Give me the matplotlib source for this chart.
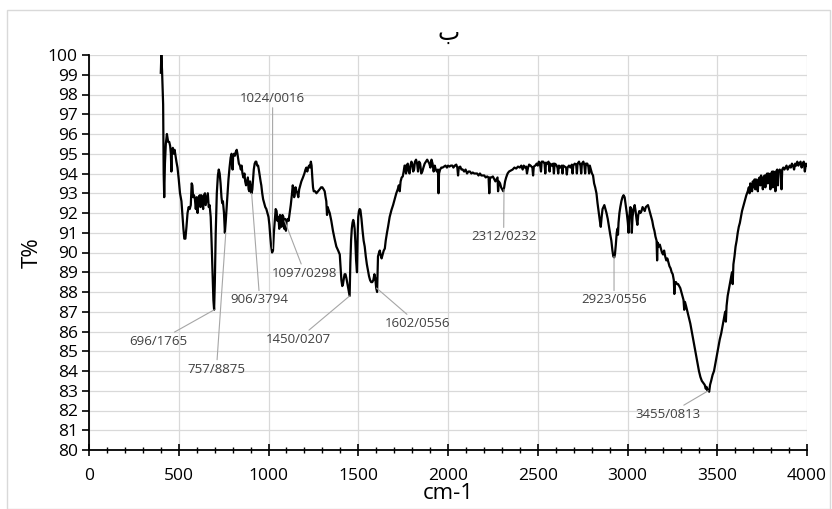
import matplotlib
matplotlib.use("Agg")
import matplotlib.pyplot as plt
from matplotlib.patches import Rectangle
from matplotlib.ticker import MultipleLocator

# ---- FTIR spectrum ----
WAVENUMBER = [
    400, 403, 407, 410, 413, 416, 419, 423, 428, 434, 441, 447, 452, 456, 459, 462, 467, 472, 477, 482,
    487, 493, 500, 507, 515, 521, 526, 531, 537, 543, 549, 555, 561, 567, 572, 576, 580, 585, 590, 595,
    600, 605, 611, 617, 621, 626, 631, 636, 641, 646, 650, 656, 662, 667, 672, 678, 683, 688, 693, 697,
    701, 706, 712, 718, 723, 728, 733, 738, 742, 746, 752, 757, 762, 767, 772, 777, 783, 789, 794, 797,
    800, 803, 808, 813, 818, 823, 827, 830, 835, 841, 846, 850, 855, 860, 866, 870, 875, 880, 885, 889,
    893, 897, 902, 906, 910, 914, 918, 923, 928, 932, 937, 942, 946, 951, 956, 960, 965, 970, 976, 982,
    988, 994, 1000, 1005, 1010, 1015, 1020, 1025, 1030, 1035, 1040, 1045, 1050, 1055, 1060, 1064, 1068, 1073, 1078, 1083,
    1088, 1093, 1097, 1101, 1107, 1112, 1118, 1124, 1130, 1135, 1140, 1143, 1147, 1151, 1156, 1161, 1166, 1171, 1177, 1183,
    1192, 1200, 1206, 1211, 1216, 1221, 1226, 1231, 1236, 1240, 1244, 1248, 1252, 1260, 1267, 1276, 1285, 1293, 1300, 1307,
    1313, 1318, 1322, 1326, 1330, 1333, 1337, 1341, 1350, 1359, 1368, 1378, 1388, 1397, 1402, 1406, 1411, 1415, 1420, 1424,
    1429, 1434, 1440, 1446, 1452, 1456, 1460, 1464, 1468, 1472, 1476, 1480, 1484, 1488, 1493, 1497, 1500, 1504, 1508, 1512,
    1518, 1524, 1530, 1536, 1542, 1548, 1554, 1560, 1566, 1572, 1578, 1584, 1590, 1595, 1600, 1605, 1610, 1616, 1620, 1624,
    1630, 1636, 1642, 1648, 1653, 1660, 1666, 1675, 1685, 1694, 1703, 1712, 1720, 1726, 1731, 1736, 1742, 1748, 1753, 1758,
    1762, 1766, 1771, 1776, 1781, 1786, 1791, 1796, 1801, 1806, 1811, 1816, 1822, 1828, 1833, 1839, 1845, 1851, 1857, 1863,
    1870, 1877, 1884, 1890, 1896, 1902, 1908, 1914, 1920, 1926, 1932, 1938, 1944, 1947, 1950, 1956, 1963, 1970, 1978, 1986,
    1994, 2000, 2008, 2016, 2024, 2030, 2038, 2046, 2052, 2056, 2060, 2068, 2075, 2082, 2090, 2098, 2106, 2114, 2122, 2130,
    2138, 2146, 2154, 2162, 2170, 2178, 2186, 2194, 2202, 2210, 2218, 2226, 2230, 2234, 2242, 2250, 2258, 2264, 2270, 2276,
    2279, 2283, 2290, 2296, 2302, 2308, 2313, 2318, 2324, 2332, 2340, 2350, 2360, 2370, 2380, 2390, 2400, 2408, 2416, 2422,
    2428, 2435, 2440, 2446, 2452, 2460, 2470, 2474, 2478, 2486, 2494, 2500, 2506, 2512, 2518, 2522, 2530, 2538, 2542, 2546,
    2554, 2560, 2566, 2570, 2578, 2586, 2590, 2594, 2602, 2610, 2614, 2618, 2626, 2634, 2638, 2642, 2650, 2658, 2662, 2666,
    2674, 2682, 2690, 2694, 2698, 2706, 2714, 2718, 2722, 2730, 2738, 2742, 2746, 2754, 2760, 2764, 2768, 2776, 2782, 2786,
    2790, 2796, 2802, 2808, 2814, 2820, 2827, 2833, 2840, 2846, 2851, 2856, 2861, 2866, 2871, 2877, 2883, 2890, 2897, 2904,
    2910, 2916, 2921, 2926, 2930, 2935, 2940, 2944, 2947, 2950, 2955, 2960, 2966, 2972, 2978, 2984, 2990, 2996, 3002, 3006,
    3010, 3016, 3021, 3024, 3028, 3034, 3040, 3045, 3050, 3055, 3060, 3066, 3072, 3078, 3084, 3090, 3096, 3102, 3108, 3114,
    3120, 3126, 3132, 3138, 3144, 3150, 3156, 3162, 3165, 3168, 3174, 3180, 3186, 3192, 3198, 3204, 3210, 3216, 3222, 3228,
    3234, 3240, 3246, 3252, 3258, 3261, 3264, 3270, 3276, 3282, 3288, 3294, 3300, 3306, 3312, 3316, 3320, 3326, 3334, 3342,
    3350, 3358, 3366, 3374, 3382, 3390, 3398, 3406, 3414, 3422, 3430, 3436, 3440, 3445, 3450, 3455, 3460, 3466, 3474, 3482,
    3490, 3498, 3506, 3514, 3522, 3530, 3538, 3544, 3548, 3552, 3558, 3564, 3570, 3576, 3582, 3586, 3590, 3596, 3602, 3608,
    3614, 3620, 3626, 3632, 3638, 3644, 3650, 3656, 3662, 3670, 3676, 3680, 3684, 3690, 3694, 3698, 3704, 3708, 3712, 3716,
    3722, 3726, 3730, 3736, 3740, 3744, 3750, 3754, 3758, 3764, 3768, 3772, 3778, 3782, 3786, 3792, 3796, 3800, 3806, 3810,
    3814, 3820, 3824, 3828, 3834, 3838, 3842, 3848, 3854, 3858, 3862, 3868, 3874, 3880, 3886, 3892, 3898, 3904, 3910, 3916,
    3922, 3928, 3934, 3940, 3946, 3952, 3958, 3964, 3970, 3976, 3982, 3988, 3994, 4000,
]
TRANSMITTANCE = [
    99.1, 100.0, 99.2, 98.3, 97.5, 94.0, 92.8, 94.5, 95.5, 96.0, 95.6, 95.6, 95.4, 95.0, 94.1, 95.2, 95.3, 95.0, 95.2, 94.9,
    94.6, 94.3, 93.7, 93.0, 92.6, 91.8, 91.2, 90.7, 90.7, 91.3, 92.0, 92.3, 92.2, 92.4, 93.5, 93.4, 92.8, 92.9, 92.7, 92.2,
    92.8, 92.0, 92.8, 92.9, 92.3, 92.9, 92.5, 92.2, 92.9, 93.0, 92.4, 92.7, 93.0, 92.3, 92.4, 91.8, 90.5, 89.0, 87.6, 87.1,
    88.5, 91.0, 93.0, 93.9, 94.2, 94.0, 93.5, 92.8, 92.5, 92.6, 92.0, 91.0, 91.6, 92.3, 93.0, 93.7, 94.3, 94.8, 95.0, 94.9,
    94.2, 94.9, 95.0, 94.9, 95.1, 95.2, 95.0, 94.8, 94.5, 94.4, 94.2, 94.4, 94.0, 93.8, 94.0, 93.6, 93.4, 93.6, 93.8, 93.2,
    93.1, 93.6, 93.3, 93.0, 93.2, 93.7, 94.2, 94.5, 94.6, 94.6, 94.4, 94.4, 94.2, 93.9, 93.6, 93.4, 93.0, 92.7, 92.5, 92.3,
    92.2, 92.0, 91.8, 91.4, 90.8, 90.3, 90.0, 90.1, 91.0, 91.6, 92.2, 92.1, 91.6, 91.8, 91.2, 91.9, 91.8, 91.3, 91.9, 91.8,
    91.2, 91.7, 91.1, 91.6, 91.7, 91.6, 92.0, 92.4, 92.9, 93.4, 93.2, 92.8, 93.0, 93.3, 93.1, 93.0, 92.8, 93.2, 93.4, 93.6,
    93.8, 94.0, 94.2, 94.3, 94.1, 94.3, 94.4, 94.3, 94.6, 94.4, 93.8, 93.3, 93.1, 93.1, 93.0, 93.1, 93.2, 93.3, 93.3, 93.2,
    93.1, 92.8, 92.6, 91.9, 92.3, 92.2, 92.1, 92.0, 91.6, 91.1, 90.7, 90.3, 90.1, 89.9, 89.2, 88.6, 88.3, 88.4, 88.7, 88.9,
    88.9, 88.7, 88.4, 88.1, 87.8, 89.5, 90.6, 91.2, 91.5, 91.65, 91.5, 91.2, 90.5, 89.6, 89.0, 91.0, 91.8, 92.1, 92.2, 92.15,
    91.7, 91.1, 90.6, 90.3, 89.8, 89.4, 89.1, 88.8, 88.6, 88.5, 88.5, 88.6, 88.9, 88.7, 88.2, 88.0, 89.8, 90.0, 90.1, 89.9,
    89.7, 89.9, 90.1, 90.2, 90.6, 91.0, 91.3, 91.8, 92.15, 92.4, 92.7, 93.0, 93.2, 93.4, 93.1, 93.6, 93.8, 93.85, 94.1, 94.4,
    94.4, 94.0, 94.4, 94.5, 94.1, 94.0, 94.4, 94.6, 94.5, 94.1, 94.2, 94.6, 94.7, 94.5, 94.1, 94.6, 94.5, 94.0, 94.1, 94.3,
    94.5, 94.6, 94.7, 94.6, 94.5, 94.3, 94.7, 94.5, 94.1, 94.4, 94.2, 94.1, 94.2, 93.0, 94.0, 94.2, 94.3, 94.3, 94.35, 94.4,
    94.3, 94.4, 94.35, 94.4, 94.4, 94.3, 94.4, 94.45, 94.3, 93.9, 94.3, 94.35, 94.2, 94.2, 94.1, 94.2, 94.0, 94.1, 94.1, 94.0,
    94.05, 94.0, 94.0, 94.0, 93.9, 94.0, 93.9, 93.9, 93.9, 93.8, 93.85, 93.8, 93.0, 93.8, 93.8, 93.85, 93.7, 93.6, 93.7, 93.8,
    93.1, 93.6, 93.5, 93.3, 93.2, 93.1, 93.3, 93.6, 93.8, 94.0, 94.1, 94.15, 94.2, 94.3, 94.25, 94.35, 94.3, 94.4, 94.2, 94.4,
    94.3, 94.35, 94.0, 94.3, 94.45, 94.4, 94.3, 93.9, 94.35, 94.4, 94.5, 94.4, 94.6, 94.5, 94.1, 94.6, 94.6, 94.5, 94.0, 94.55,
    94.5, 94.6, 94.1, 94.5, 94.4, 94.5, 94.0, 94.5, 94.45, 94.3, 94.0, 94.4, 94.3, 94.4, 94.0, 94.4, 94.35, 94.3, 93.95, 94.3,
    94.4, 94.3, 94.45, 94.0, 94.4, 94.5, 94.45, 94.0, 94.5, 94.6, 94.4, 94.0, 94.5, 94.6, 94.4, 94.0, 94.5, 94.5, 94.35, 94.0,
    94.4, 94.2, 94.0, 93.9, 93.5, 93.3, 93.0, 92.5, 92.0, 91.6, 91.3, 91.8, 92.2, 92.3, 92.4, 92.2, 92.0, 91.7, 91.3, 90.9,
    90.6, 90.1, 89.8, 89.75, 89.9, 90.4, 91.0, 91.2, 90.9, 91.5, 92.0, 92.3, 92.6, 92.8, 92.9, 92.8, 92.4, 92.0, 91.5, 91.0,
    91.8, 92.3, 92.2, 91.0, 91.8, 92.2, 92.4, 92.1, 91.7, 91.4, 91.9, 92.1, 92.0, 92.1, 92.3, 92.2, 92.1, 92.3, 92.35, 92.4,
    92.2, 92.0, 91.8, 91.6, 91.3, 91.1, 90.8, 90.6, 89.6, 90.5, 90.3, 90.4, 90.2, 90.0, 89.9, 90.1, 89.8, 89.6, 89.7, 89.5,
    89.3, 89.2, 89.0, 88.9, 88.6, 87.9, 88.5, 88.5, 88.4, 88.4, 88.3, 88.2, 88.0, 87.8, 87.6, 87.1, 87.5, 87.3, 87.0, 86.7,
    86.4, 86.0, 85.6, 85.2, 84.8, 84.4, 84.0, 83.7, 83.5, 83.4, 83.3, 83.1, 83.2, 83.0, 83.05, 82.95, 83.3, 83.5, 83.8, 84.0,
    84.4, 84.8, 85.2, 85.6, 85.9, 86.3, 86.7, 87.0, 86.5, 87.3, 87.8, 88.1, 88.4, 88.7, 89.0, 88.4, 89.4, 89.8, 90.3, 90.6,
    91.0, 91.3, 91.5, 91.8, 92.1, 92.3, 92.5, 92.7, 92.9, 93.1, 93.3, 93.0, 93.5, 93.4, 93.1, 93.6, 93.3, 93.7, 93.2, 93.7,
    93.6, 93.1, 93.7, 93.8, 93.4, 93.9, 93.7, 93.2, 93.8, 93.9, 93.3, 93.9, 94.0, 93.5, 94.0, 93.9, 93.2, 94.0, 94.1, 93.3,
    94.1, 94.0, 93.1, 94.1, 94.2, 93.4, 94.1, 94.2, 94.1, 93.2, 94.2, 94.3, 94.2, 94.3, 94.4, 94.2, 94.3, 94.4, 94.3, 94.5,
    94.4, 94.2, 94.5, 94.4, 94.6, 94.4, 94.5, 94.6, 94.3, 94.5, 94.6, 94.1, 94.5, 94.4,
]

# ---- labelled peaks (wavenumber/value text as printed on the chart) ----
PEAK_TEXT = ["696/1765", "757/8875", "906/3794", "1024/0016", "1097/0298",
             "1450/0207", "1602/0556", "2312/0232", "2923/0556", "3455/0813"]
PEAK_X = [698, 762, 906, 1022, 1090, 1452, 1602, 2312, 2925, 3450]
PEAK_Y = [87.1, 91.0, 93.0, 90.2, 91.6, 87.8, 88.2, 93.2, 89.8, 83.0]

TITLE = "ب"
X_LABEL = "cm-1"
Y_LABEL = "T%"

W, H = 832, 509
# where each label text sits (data coords)
LABEL_POS = [(384, 85.5), (710, 84.1), (951, 87.6), (1023, 97.8), (1202, 88.95),
             (1164, 85.6), (1831, 86.4), (2310, 90.8), (2925, 87.6), (3226, 81.8)]

plt.rcParams["font.family"] = ["Open Sans", "DejaVu Sans"]

fig = plt.figure(figsize=(W / 100, H / 100), dpi=100)
ax = fig.add_axes([89 / W, 1 - 450 / H, 718 / W, 395 / H])

# chart-area frame like the spreadsheet export
fig.patches.append(Rectangle((7 / W, 0), 1 - 9 / W, 1 - 10 / H, transform=fig.transFigure,
                             fill=False, ec="#d9d9d9", lw=1))

ax.plot(WAVENUMBER, TRANSMITTANCE, color="black", lw=1.6, zorder=3)

for txt, px, py, (tx, ty) in zip(PEAK_TEXT, PEAK_X, PEAK_Y, LABEL_POS):
    ax.annotate(txt, xy=(px, py), xytext=(tx, ty), ha="center", va="center",
                fontsize=9.5, color="#404040", zorder=4,
                arrowprops=dict(arrowstyle="-", color="#a6a6a6", lw=0.8, shrinkA=0, shrinkB=0))

ax.set_xlim(0, 4000)
ax.set_ylim(80, 100)
ax.xaxis.set_major_locator(MultipleLocator(500))
ax.xaxis.set_minor_locator(MultipleLocator(100))
ax.yaxis.set_major_locator(MultipleLocator(1))
ax.grid(True, which="major", color="#d9d9d9", lw=0.9, zorder=0)
for s in ("top", "right"):
    ax.spines[s].set_visible(False)
for s in ("left", "bottom"):
    ax.spines[s].set_linewidth(1.3)
ax.tick_params(axis="x", which="major", direction="inout", length=8, width=1.2, labelsize=12.5, pad=9)
ax.tick_params(axis="x", which="minor", direction="inout", length=5, width=1.0)
ax.tick_params(axis="y", which="major", direction="out", length=5, width=1.2, labelsize=12.5, pad=3)

ax.set_xlabel(X_LABEL, fontsize=16, labelpad=-1)
ax.set_ylabel(Y_LABEL, fontsize=16, labelpad=4)
fig.text(449 / W, 1 - 40 / H, TITLE, fontsize=17, ha="center", va="baseline",
         family=["DejaVu Sans"])

fig.savefig("out.png", dpi=100)
